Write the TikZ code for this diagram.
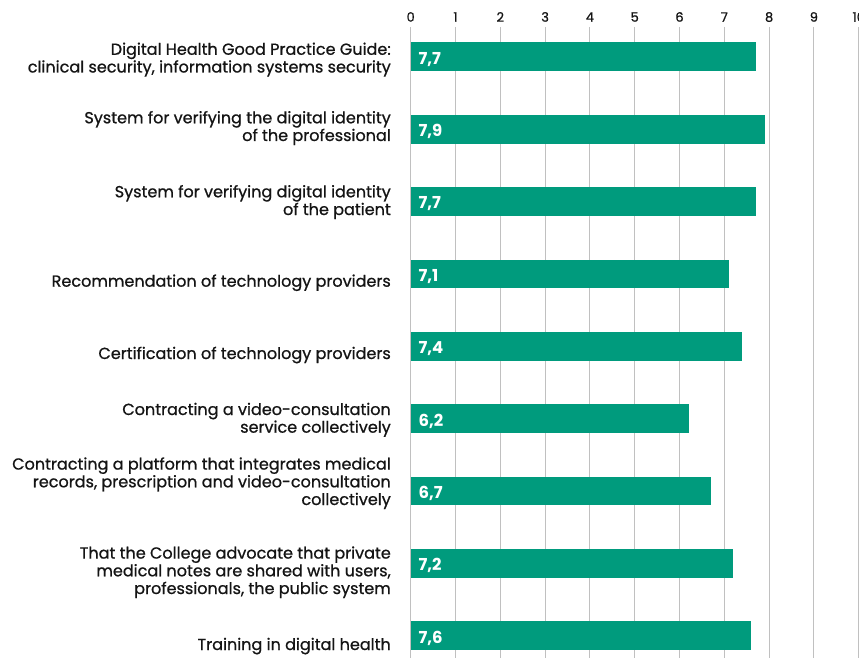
\documentclass[tikz,border=0pt]{standalone}
\usepackage{fontspec}
\setmainfont{Poppins}
\newfontfamily\labfont{Poppins}[FakeBold=0.8]
\definecolor{bargreen}{RGB}{0,155,125}
\definecolor{gridgray}{RGB}{192,192,192}
\definecolor{labelcol}{RGB}{20,20,20}
\newcommand\mybar[4]{%
  \node[bar,anchor=north west,minimum width={44.8pt*#3}] (#1) at (410.7,{42.3+72.34*#2}) {};
  \node[vallab] (#1v) at ([xshift=7.6pt,yshift=-22pt]#1.north west) {#4};
}
\begin{document}
\begin{tikzpicture}[x=1pt,y=-1pt,
  grid/.style={draw=gridgray,line width=1pt},
  bar/.style={fill=bargreen,draw=none,inner sep=0pt,minimum height=28.7pt},
  ticklab/.style={anchor=base,inner sep=0pt,text=labelcol,font=\labfont\fontsize{13}{15}\selectfont},
  vallab/.style={anchor=base west,inner sep=0pt,text=white,font=\fontsize{16.5}{18}\selectfont\bfseries},
  catlab/.style={anchor=base east,inner sep=0pt,text=labelcol,font=\labfont\fontsize{16.05}{17.7}\selectfont}]
\useasboundingbox (0,0) rectangle (859,658);
\fill[white] (0,0) rectangle (859,658);
\foreach \i in {0,...,10} {
  \coordinate (gt\i) at ({410.7+44.8*\i},27);
  \coordinate (gb\i) at ({410.7+44.8*\i},658);
  \draw[grid] (gt\i) -- (gb\i);
  \node[ticklab] (tl\i) at ({410.7+44.8*\i},21.7) {\i};
}
\mybar{b1}{0}{7.7}{7,7}
\mybar{b2}{1}{7.9}{7,9}
\mybar{b3}{2}{7.7}{7,7}
\mybar{b4}{3}{7.1}{7,1}
\mybar{b5}{4}{7.4}{7,4}
\mybar{b6}{5}{6.2}{6,2}
\mybar{b7}{6}{6.7}{6,7}
\mybar{b8}{7}{7.2}{7,2}
\mybar{b9}{8}{7.6}{7,6}
\node[catlab] (c1) at (391,72.5) {\begin{tabular}[b]{@{}r@{}}Digital Health Good Practice Guide:\\clinical security, information systems security\end{tabular}};
\node[catlab] (c2) at (391,141) {\begin{tabular}[b]{@{}r@{}}System for verifying the digital identity\\of the professional\end{tabular}};
\node[catlab] (c3) at (391,215) {\begin{tabular}[b]{@{}r@{}}System for verifying digital identity\\of the patient\end{tabular}};
\node[catlab] (c4) at (391,286.7) {Recommendation of technology providers};
\node[catlab] (c5) at (391,359) {Certification of technology providers};
\node[catlab] (c6) at (391,432.7) {\begin{tabular}[b]{@{}r@{}}Contracting a video-consultation\\service collectively\end{tabular}};
\node[catlab] (c7) at (391,505) {\begin{tabular}[b]{@{}r@{}}Contracting a platform that integrates medical\\records, prescription and video-consultation\\collectively\end{tabular}};
\node[catlab] (c8) at (391,594) {\begin{tabular}[b]{@{}r@{}}That the College advocate that private\\medical notes are shared with users,\\professionals, the public system\end{tabular}};
\node[catlab] (c9) at (391,650) {Training in digital health};
\end{tikzpicture}
\end{document}
